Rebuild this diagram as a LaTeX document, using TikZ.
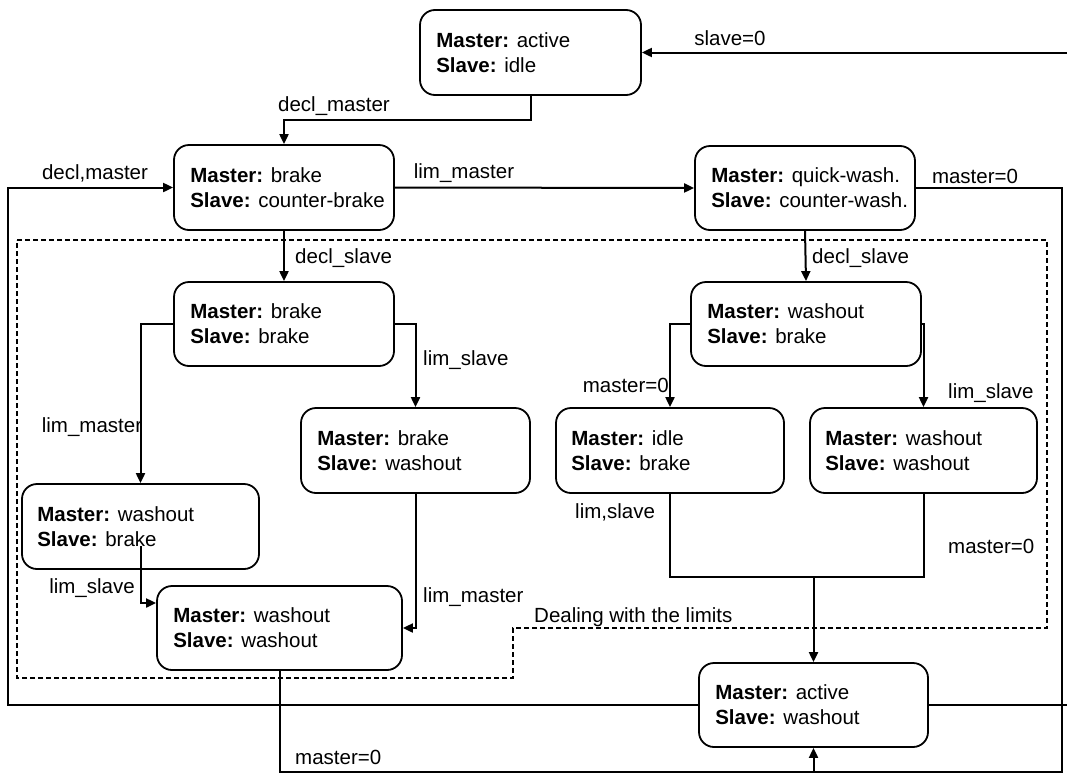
\documentclass[tikz,border=0pt]{standalone}
\usepackage{fontspec}
\setmainfont{Liberation Sans}
\usetikzlibrary{arrows.meta,calc}
\begin{document}
\begin{tikzpicture}[x=1pt,y=-1pt,
  every node/.style={font=\fontsize{20.5}{25}\selectfont},
  state/.style={draw, line width=1.8pt, rounded corners=15pt, inner sep=0pt},
  txt/.style={anchor=west, align=left, inner sep=0pt},
  lbl/.style={inner sep=0pt},
  conn/.style={line width=2pt},
  arr/.style={conn, -{Triangle[length=10pt,width=9pt]}},
  limbox/.style={line width=2pt, dash pattern=on 5pt off 3pt}]
\useasboundingbox (0,0) rectangle (1067,774);

% states
\node[state, minimum width=221pt, minimum height=85pt] (s1) at (530.5,52.5) {};
\node[txt] (t1) at ([xshift=17pt]s1.west) {\textbf{Master:} active\\\textbf{Slave:} idle};
\node[state, minimum width=220pt, minimum height=85pt] (s2) at (284,187.5) {};
\node[txt] (t2) at ([xshift=17pt]s2.west) {\textbf{Master:} brake\\\textbf{Slave:} counter-brake};
\node[state, minimum width=220pt, minimum height=84pt] (s3) at (805,188) {};
\node[txt] (t3) at ([xshift=17pt]s3.west) {\textbf{Master:} quick-wash.\\\textbf{Slave:} counter-wash.};
\node[state, minimum width=220pt, minimum height=84pt] (s4) at (284,324) {};
\node[txt] (t4) at ([xshift=17pt]s4.west) {\textbf{Master:} brake\\\textbf{Slave:} brake};
\node[state, minimum width=230pt, minimum height=84pt] (s5) at (806,324) {};
\node[txt] (t5) at ([xshift=17pt]s5.west) {\textbf{Master:} washout\\\textbf{Slave:} brake};
\node[state, minimum width=229pt, minimum height=85pt] (s6) at (415.5,450.5) {};
\node[txt] (t6) at ([xshift=17pt]s6.west) {\textbf{Master:} brake\\\textbf{Slave:} washout};
\node[state, minimum width=237pt, minimum height=85pt] (s7) at (140.5,526.5) {};
\node[txt] (t7) at ([xshift=16pt]s7.west) {\textbf{Master:} washout\\\textbf{Slave:} brake};
\node[state, minimum width=245pt, minimum height=84pt] (s8) at (279.5,628) {};
\node[txt] (t8) at ([xshift=17pt]s8.west) {\textbf{Master:} washout\\\textbf{Slave:} washout};
\node[state, minimum width=228pt, minimum height=85pt] (s9) at (670,450.5) {};
\node[txt] (t9) at ([xshift=16pt]s9.west) {\textbf{Master:} idle\\\textbf{Slave:} brake};
\node[state, minimum width=227pt, minimum height=85pt] (s10) at (923.5,450.5) {};
\node[txt] (t10) at ([xshift=16pt]s10.west) {\textbf{Master:} washout\\\textbf{Slave:} washout};
\node[state, minimum width=229pt, minimum height=84pt] (s11) at (813.5,705) {};
\node[txt] (t11) at ([xshift=17pt]s11.west) {\textbf{Master:} active\\\textbf{Slave:} washout};

% helper coordinates
\coordinate (bl) at (8,705);
\coordinate (br) at (1062,772);
\coordinate (re) at (1067,705);
\coordinate (rt) at (1067,52.5);
\coordinate (jn) at (813.5,577);

% dashed region
\draw[limbox] (17,240) -- (1047,240) -- (1047,628) -- (513,628) -- (513,678) -- (17,678) -- cycle;
\node[lbl, anchor=west] (ldeal) at (534,617) {Dealing with the limits};

% connectors
\draw[arr] (s1.south) -- ++(0,24) -| (s2.north);
\draw[arr] (s11.west) -- (bl) |- (s2.west);
\draw[arr] (s2.east) -- (s3.west);
\draw[arr] (s3.east) -| (br) -| (s11.south);
\draw[conn] (s8.south) |- (br -| s11.south);
\draw[conn] (s11.east) -- (re);
\draw[arr] (rt) -- (s1.east);
\draw[arr] (s2.south) -- (s4.north);
\draw[arr] (s3.south) -- (s5.north);
\draw[arr] (s4.west) -| (s7.north);
\draw[arr] (s4.east) -| (s6.north);
\draw[arr] ([yshift=24pt]s7.south) |- ([yshift=25pt]s8.west);
\draw[arr] (s6.south) |- (s8.east);
\draw[arr] (s5.west) -| (s9.north);
\draw[arr] (s5.east) -| (s10.north);
\draw[conn] (s9.south) |- (jn) -| (s10.south);
\draw[arr] (jn) -- (s11.north);

% labels
\node[lbl] (l1) at (334,106) {decl\_master};
\node[lbl] (l2) at (95,173) {decl,master};
\node[lbl] (l3) at (464,173) {lim\_master};
\node[lbl] (l4) at (975,176) {master=0};
\node[lbl] (l5) at (730,38) {slave=0};
\node[lbl, anchor=west] (l6) at (295,258) {decl\_slave};
\node[lbl, anchor=west] (l7) at (812,258) {decl\_slave};
\node[lbl] (l8) at (92,427) {lim\_master};
\node[lbl, anchor=west] (l9) at (423,360) {lim\_slave};
\node[lbl] (l10) at (92,588) {lim\_slave};
\node[lbl, anchor=west] (l11) at (423,597) {lim\_master};
\node[lbl, anchor=east] (l12) at (669,385) {master=0};
\node[lbl, anchor=west] (l13) at (948,393) {lim\_slave};
\node[lbl, anchor=west] (l14) at (575,512) {lim,slave};
\node[lbl, anchor=west] (l15) at (948,546) {master=0};
\node[lbl, anchor=west] (l16) at (295,757) {master=0};
\end{tikzpicture}
\end{document}
